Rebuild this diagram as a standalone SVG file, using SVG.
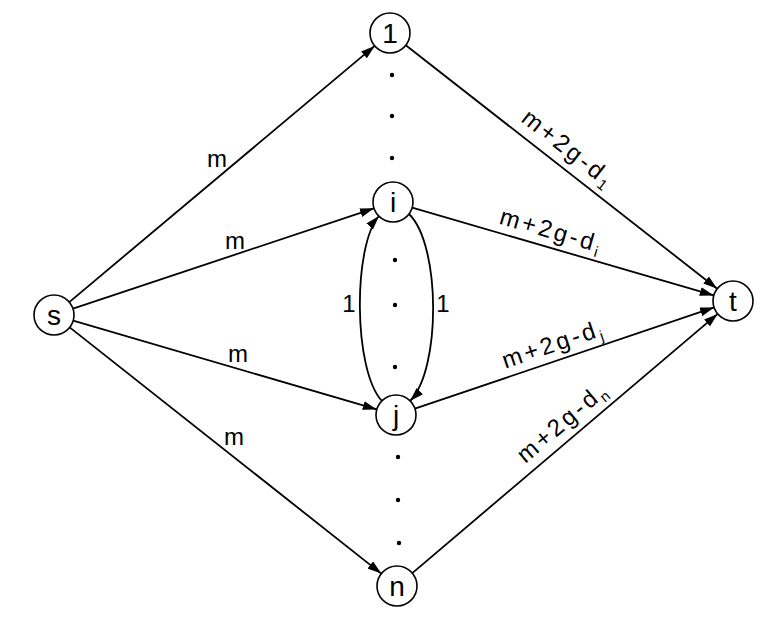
<svg xmlns="http://www.w3.org/2000/svg" width="784" height="618" viewBox="0 0 784 618">
<style>
.node circle{fill:#fff;stroke:#000;stroke-width:1.6}
.nl{font-family:"Liberation Sans",Arial,sans-serif;font-size:28px;text-anchor:middle;fill:#000}
.edge{fill:none;stroke:#000;stroke-width:1.8}
.el{font-family:"Liberation Sans",Arial,sans-serif;font-size:24px;fill:#000}
.lab{font-family:"Liberation Sans",Arial,sans-serif;font-size:24px;fill:#000;text-anchor:middle;letter-spacing:3px}
.dot{fill:#000}
</style>
<defs>
<marker id="arr" markerUnits="userSpaceOnUse" markerWidth="15" markerHeight="9" refX="14" refY="4.5" orient="auto">
<path d="M0,0 L14,4.5 L0,9 z" fill="#000"/>
</marker>
</defs>
<rect width="784" height="618" fill="#fff"/>
<g id="connectors">
<path class="edge" d="M69.3,302.1 L374.7,45.9" marker-end="url(#arr)"/>
<path class="edge" d="M73,308.7 L374,208.3" marker-end="url(#arr)"/>
<path class="edge" d="M73.2,320.6 L376.8,409.4" marker-end="url(#arr)"/>
<path class="edge" d="M69.7,327.4 L381.3,573.6" marker-end="url(#arr)"/>
<path class="edge" d="M405.8,45.3 L717.2,288.7" marker-end="url(#arr)"/>
<path class="edge" d="M412.2,207.6 L713.8,295.4" marker-end="url(#arr)"/>
<path class="edge" d="M414.9,408.6 L714.1,307.4" marker-end="url(#arr)"/>
<path class="edge" d="M412.3,573.1 L717.7,313.9" marker-end="url(#arr)"/>
<path class="edge" d="M409,214 C441,245 441,370 410,401" marker-end="url(#arr)"/>
<path class="edge" d="M382,401 C353,370 353,245 379,216" marker-end="url(#arr)"/>
<text class="el" x="217" y="167" text-anchor="middle">m</text>
<text class="el" x="235" y="249" text-anchor="middle">m</text>
<text class="el" x="238" y="362" text-anchor="middle">m</text>
<text class="el" x="234" y="445" text-anchor="middle">m</text>
<text class="el" x="349" y="312" text-anchor="middle">1</text>
<text class="el" x="443" y="312" text-anchor="middle">1</text>
<text class="lab" transform="translate(557,163.6) rotate(38)" y="-11">m+2g-d<tspan font-size="15" dy="5">1</tspan></text>
<text class="lab" transform="translate(546.8,246.9) rotate(16.2)" y="-9">m+2g-d<tspan font-size="15" dy="5">i</tspan></text>
<text class="lab" transform="translate(558.6,360.1) rotate(-18.7)" y="-9">m+2g-d<tspan font-size="15" dy="5">j</tspan></text>
<text class="lab" transform="translate(574.3,435.6) rotate(-40.3)" y="-10">m+2g-d<tspan font-size="15" dy="5">n</tspan></text>
</g>
<g id="dots">
<circle class="dot" cx="392" cy="75" r="2.2"/>
<circle class="dot" cx="392" cy="116" r="2.2"/>
<circle class="dot" cx="392" cy="158" r="2.2"/>
<circle class="dot" cx="395" cy="260" r="2.2"/>
<circle class="dot" cx="395" cy="305" r="2.2"/>
<circle class="dot" cx="395" cy="367" r="2.2"/>
<circle class="dot" cx="398" cy="457" r="2.2"/>
<circle class="dot" cx="398" cy="500" r="2.2"/>
<circle class="dot" cx="399" cy="543" r="2.2"/>
</g>
<g id="node-s" class="node"><circle cx="54" cy="315" r="20"/><text class="nl" x="54" y="325">s</text></g>
<g id="node-1" class="node"><circle cx="390" cy="33" r="20"/><text class="nl" x="390" y="43">1</text></g>
<g id="node-i" class="node"><circle cx="393" cy="202" r="20"/><text class="nl" x="393" y="212">i</text></g>
<g id="node-j" class="node"><circle cx="396" cy="415" r="20"/><text class="nl" x="396" y="425">j</text></g>
<g id="node-n" class="node"><circle cx="397" cy="586" r="20"/><text class="nl" x="397" y="596">n</text></g>
<g id="node-t" class="node"><circle cx="733" cy="301" r="20"/><text class="nl" x="733" y="311">t</text></g>
</svg>
